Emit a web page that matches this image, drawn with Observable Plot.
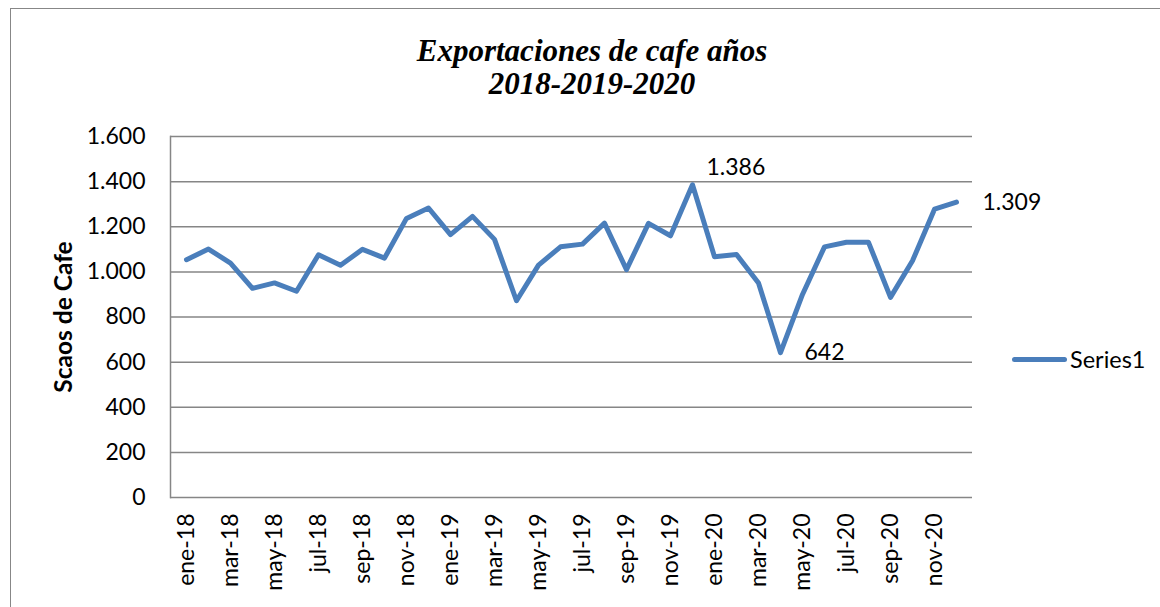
<!DOCTYPE html>
<html>
<head>
<meta charset="utf-8">
<script src="https://cdn.jsdelivr.net/npm/d3@7"></script>
<script src="https://cdn.jsdelivr.net/npm/@observablehq/plot@0.6"></script>
<style>
  html, body { margin: 0; padding: 0; background: #fff; overflow: hidden; }
  #wrap { position: relative; width: 1160px; height: 607px; overflow: hidden; font-family: Lato, "Open Sans", sans-serif; }
  #border { position: absolute; left: 10px; top: 8px; width: 1300px; height: 800px; border: 1.5px solid #878787; box-sizing: border-box; }
  #title { position: absolute; left: 0; top: 34px; width: 1184px; text-align: center; font-family: "Liberation Serif", "Times New Roman", serif; font-weight: bold; font-style: italic; font-size: 31px; line-height: 33px; color: #000; }
  #legend { position: absolute; left: 1012px; top: 345px; display: flex; align-items: center; font-size: 23.5px; color: #000; }
  #legend .sw { width: 55px; height: 5px; background: #4a7ebb; border-radius: 3px; margin-right: 3px; }
  #chart { position: absolute; left: 0; top: 0; }
  #chart g[aria-label="y-axis label"] text { font-weight: bold; font-size: 24.5px; }
</style>
</head>
<body>
<div id="wrap">
  <div id="border"></div>
  <div id="chart"></div>
  <div id="title">Exportaciones de cafe años<br>2018-2019-2020</div>
  <div id="legend"><div class="sw"></div><span>Series1</span></div>
</div>
<script>
const meses = [
  "ene-18","feb-18","mar-18","abr-18","may-18","jun-18","jul-18","ago-18","sep-18","oct-18","nov-18","dic-18",
  "ene-19","feb-19","mar-19","abr-19","may-19","jun-19","jul-19","ago-19","sep-19","oct-19","nov-19","dic-19",
  "ene-20","feb-20","mar-20","abr-20","may-20","jun-20","jul-20","ago-20","sep-20","oct-20","nov-20","dic-20"
];
const sacos = [
  1054, 1101, 1039, 927, 951, 914, 1076, 1029, 1100, 1061, 1237, 1283,
  1165, 1246, 1144, 872, 1030, 1111, 1123, 1216, 1010, 1215, 1160, 1386,
  1067, 1077, 951, 642, 900, 1111, 1131, 1131, 887, 1049, 1278, 1309
];
const yTicks = [0, 200, 400, 600, 800, 1000, 1200, 1400, 1600];
const xTicks = meses.filter((d, i) => i % 2 === 0);
const etiquetaMes = ["dic-19", "abr-20", "dic-20"];
const etiquetaValor = [1386, 642, 1309];

const data = meses.map((m, i) => ({mes: m, valor: sacos[i]}));
const etiquetas = etiquetaMes.map((m, i) => ({mes: m, valor: etiquetaValor[i]}));
const fmt = d3.formatLocale({decimal: ",", thousands: ".", grouping: [3], currency: ["", ""]}).format(",d");
const offs = [[14, -17], [24, 0], [26, 0]];

const chart = Plot.plot({
  width: 1160,
  height: 607,
  marginLeft: 170,
  marginRight: 188,
  marginTop: 136,
  marginBottom: 110,
  style: {fontFamily: "Lato, 'Open Sans', sans-serif", fontSize: "23px", color: "#000", background: "transparent"},
  x: {type: "point", domain: meses, padding: 0.5, label: null},
  y: {domain: [0, 1600], label: null},
  marks: [
    Plot.ruleY(yTicks, {stroke: "#868686", strokeWidth: 1.5}),
    Plot.frame({anchor: "left", stroke: "#868686", strokeWidth: 1.5}),
    Plot.axisY({ticks: yTicks, tickSize: 0, tickPadding: 25, tickFormat: fmt, fontSize: 23,
      label: "Scaos de Cafe", labelAnchor: "center", labelOffset: 116, labelArrow: "none"}),
    Plot.axisX({ticks: xTicks, tickSize: 0, tickPadding: 16, tickRotate: -90, fontSize: 23, label: null}),
    Plot.line(data, {x: "mes", y: "valor", stroke: "#4a7ebb", strokeWidth: 5, strokeLinejoin: "round", strokeLinecap: "round"}),
    ...etiquetas.map((e, i) => Plot.text([e], {x: "mes", y: "valor", text: d => fmt(d.valor),
      dx: offs[i][0], dy: offs[i][1], textAnchor: "start", fontSize: 23, fill: "#000"}))
  ]
});
document.getElementById("chart").appendChild(chart);
</script>
</body>
</html>
